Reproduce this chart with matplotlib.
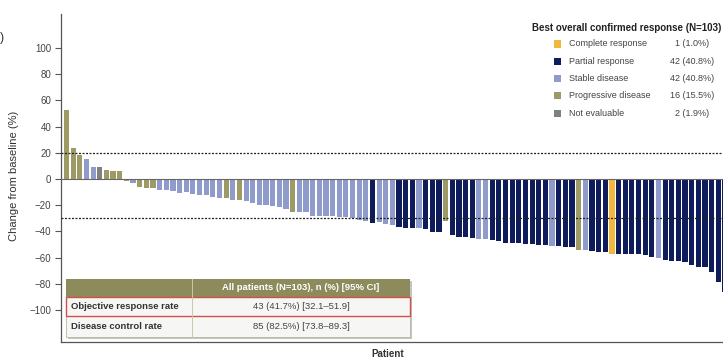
import matplotlib.pyplot as plt
from matplotlib.patches import Rectangle

plt.rcParams['font.family'] = ['Liberation Sans', 'DejaVu Sans']

# best percentage change from baseline, one bar per patient
changes = [53, 24, 18, 15, 9.5, 9.5, 7, 6, 6, -1.5,
           -3, -6, -7, -7, -8, -8, -9, -10.5, -10, -11.5,
           -12, -12.5, -13.5, -14.5, -14.5, -16, -16, -17, -18.5, -19.5,
           -20, -20.5, -21.5, -22.5, -25, -25, -25, -28, -28, -28,
           -28, -28.7, -29.3, -29.5, -31.3, -31.8, -33.8, -32.6, -34, -35,
           -36.9, -37.6, -37.6, -37.5, -38.4, -40.2, -40.7, -32, -43, -44,
           -44, -45.3, -46, -46, -46.6, -47.5, -48.5, -48.6, -49, -49.5,
           -49.6, -50, -50.4, -51, -51, -51.5, -52, -54, -54, -54.7,
           -55.5, -55.5, -57, -57, -57, -57.3, -57.5, -58, -59.8, -60.6,
           -61.8, -62.3, -62.5, -63.1, -65.6, -66.9, -67.4, -70.7, -78.4, -86]

# C = complete, R = partial, S = stable, P = progressive, N = not evaluable
responses = ("PPPSSNPPPP" "SPPPSSSSSS" "SSSSPSPSSS" "SSSSPSSSSS" "SSSSSSRSSS"
             "RRRSRRRPRR" "RRSSRRRRRR" "RRRSRRRPSR" "RRCRRRRRRS" "RRRRRRRRRR")

legend_codes = ['C', 'R', 'S', 'P', 'N']
legend_names = ['Complete response', 'Partial response', 'Stable disease',
                'Progressive disease', 'Not evaluable']
legend_counts = ['1 (1.0%)', '42 (40.8%)', '42 (40.8%)', '16 (15.5%)', '2 (1.9%)']
colors = {'C': '#f2b73d', 'R': '#0e1c5c', 'S': '#8e9bcb',
          'P': '#9d9a66', 'N': '#808080'}

yticks = [-100, -80, -60, -40, -20, 0, 20, 40, 60, 80, 100]

table_header = 'All patients (N=103), n (%) [95% CI]'
table_rows = ['Objective response rate', 'Disease control rate']
table_values = ['43 (41.7%) [32.1\u201351.9]', '85 (82.5%) [73.8\u201389.3]']

W, H = 723, 361


def fx(px):
    return px / W


def fy(py):
    return 1 - py / H


fig = plt.figure(figsize=(W / 100, H / 100), dpi=100)
ax = fig.add_axes([fx(61), fy(342), fx(723 - 61), (342 - 14) / H])

xs = list(range(len(changes)))
ax.bar(xs, changes, width=0.78, color=[colors[r] for r in responses], zorder=2)
ax.axhline(0, color='#666666', lw=0.8, zorder=3)
for lvl in (20, -30):
    ax.axhline(lvl, color='#222222', lw=0.9, ls=(0, (1.6, 1.2)), zorder=4)

ax.set_xlim(-0.83, 98.7)
ax.set_ylim(-124.4, 126)
ax.set_xticks([])
ax.set_yticks(yticks)
ax.set_yticklabels([str(t).replace('-', '\u2212') for t in yticks])
ax.tick_params(axis='y', length=4, width=0.8, color='#555555',
               labelsize=7, labelcolor='#444444', pad=3)
for s in ('top', 'right'):
    ax.spines[s].set_visible(False)
for s in ('left', 'bottom'):
    ax.spines[s].set_color('#555555')
    ax.spines[s].set_linewidth(0.9)

fig.text(fx(14), fy(176), 'Change from baseline (%)', rotation=90,
         ha='center', va='center', fontsize=8, color='#333333')
fig.text(fx(388), fy(349), 'Patient', ha='center', va='top',
         fontsize=7, fontweight='bold', color='#333333')
fig.text(fx(2), fy(38), ')', ha='center', va='center', fontsize=9, color='#333333')

# legend block
fig.text(fx(532), fy(28), 'Best overall confirmed response (N=103)',
         ha='left', va='center', fontsize=7, fontweight='bold', color='#222222')
for k, code in enumerate(legend_codes):
    yc = 44 + k * 17.3
    fig.add_artist(Rectangle((fx(553.5), fy(yc + 3.5)), 7 / W, 7 / H,
                             transform=fig.transFigure, color=colors[code], lw=0))
    fig.text(fx(569), fy(yc), legend_names[k], ha='left', va='center',
             fontsize=6.5, color='#444444')
    fig.text(fx(692), fy(yc), legend_counts[k], ha='center', va='center',
             fontsize=6.5, color='#444444')

# summary table
x0, x1, x2 = 66, 192, 410
rows_y = [279, 297, 316, 337]
fig.add_artist(Rectangle((fx(x0 + 2), fy(rows_y[3] + 2)), (x2 - x0) / W,
                         (rows_y[3] - rows_y[0]) / H, transform=fig.transFigure,
                         color='#c4c4c4', lw=0))
fig.add_artist(Rectangle((fx(x0), fy(rows_y[1])), (x2 - x0) / W,
                         (rows_y[1] - rows_y[0]) / H, transform=fig.transFigure,
                         color='#8d8b5c', lw=0))
fig.add_artist(Rectangle((fx(x0), fy(rows_y[3])), (x2 - x0) / W,
                         (rows_y[3] - rows_y[1]) / H, transform=fig.transFigure,
                         facecolor='#f6f6f4', edgecolor='#b8b69a', lw=0.6))
fig.add_artist(Rectangle((fx(x0), fy(rows_y[2])), (x2 - x0) / W,
                         (rows_y[2] - rows_y[1]) / H, transform=fig.transFigure,
                         facecolor='none', edgecolor='#d0504a', lw=1.0))
fig.add_artist(plt.Line2D([fx(x1), fx(x1)], [fy(rows_y[3]), fy(rows_y[0])],
                          transform=fig.transFigure, color='#c9c7ad', lw=0.7))
fig.text(fx((x1 + x2) / 2), fy((rows_y[0] + rows_y[1]) / 2), table_header,
         ha='center', va='center', fontsize=6.8, fontweight='bold', color='white')
for k in range(2):
    yc = (rows_y[k + 1] + rows_y[k + 2]) / 2
    fig.text(fx(x0 + 5), fy(yc), table_rows[k], ha='left', va='center',
             fontsize=6.8, fontweight='bold', color='#333333')
    fig.text(fx((x1 + x2) / 2), fy(yc), table_values[k], ha='center', va='center',
             fontsize=6.8, color='#444444')

plt.savefig('out.png', dpi=100)
